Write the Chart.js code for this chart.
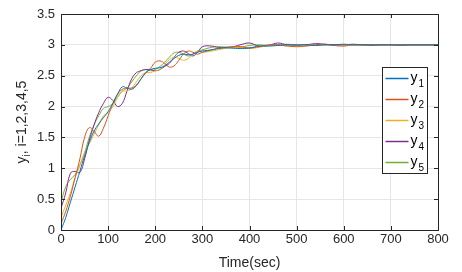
<!DOCTYPE html>
<html>
<head>
<meta charset="utf-8">
<script src="https://cdn.jsdelivr.net/npm/chart.js@4/dist/chart.umd.min.js"></script>
<style>
html,body{margin:0;padding:0;background:#fff;}
#wrap{width:462px;height:272px;position:relative;}
</style>
</head>
<body>
<div id="wrap"><canvas id="c" width="462" height="272"></canvas></div>
<script>
// time samples (sec)
const time = [0,10,20,30,40,50,60,70,80,90,100,110,120,130,140,150,160,170,180,190,200,210,220,230,240,250,260,270,280,290,300,
  320,340,360,380,400,420,440,460,480,500,520,540,560,580,600,620,640,660,680,700,720,740,760,780,800];

const y1 = [0,0.2,0.45,0.7,0.95,1.2,1.42,1.6,1.72,1.82,1.92,2.05,2.2,2.32,2.3,2.28,2.34,2.45,2.55,2.6,2.62,2.63,2.66,2.72,2.78,2.83,2.85,2.84,2.85,2.88,2.9,
  2.92,2.95,2.95,2.94,2.95,2.98,2.98,2.99,3.0,3.0,3.0,2.99,3.0,3.0,3.01,3.0,3.0,3.0,3.0,3.0,3.0,3.0,3.0,3.0,3.0];
const y2 = [0.1,0.3,0.55,0.85,1.15,1.5,1.66,1.6,1.52,1.65,1.85,2.05,2.2,2.28,2.3,2.3,2.35,2.45,2.55,2.62,2.72,2.74,2.7,2.64,2.66,2.75,2.85,2.9,2.88,2.85,2.88,
  2.92,2.95,2.97,2.97,2.95,2.97,3.0,3.0,2.98,2.97,2.98,3.0,3.01,2.99,2.98,3.0,3.0,2.99,3.0,3.0,2.99,3.0,3.0,3.0,3.0];
const y3 = [0.2,0.4,0.6,0.85,1.05,1.25,1.4,1.55,1.7,1.85,1.9,2.0,2.15,2.25,2.25,2.3,2.4,2.5,2.55,2.55,2.58,2.6,2.68,2.76,2.8,2.78,2.75,2.78,2.85,2.9,2.88,
  2.9,2.93,2.96,2.96,2.94,2.96,2.99,3.0,2.99,2.98,2.99,3.0,3.0,2.99,3.0,3.0,2.99,3.0,3.0,3.0,3.0,3.0,3.0,3.0,3.0];
const y4 = [0.35,0.6,0.92,0.95,0.93,1.15,1.45,1.7,1.9,2.05,2.15,2.1,2.0,2.05,2.25,2.45,2.55,2.58,2.6,2.6,2.58,2.6,2.65,2.7,2.8,2.88,2.9,2.86,2.82,2.88,2.97,
  2.98,2.95,2.96,3.0,3.03,2.98,2.99,3.03,3.0,2.99,3.0,3.02,3.01,3.0,3.0,3.01,3.0,3.0,3.0,3.0,3.0,3.0,3.0,3.0,3.0];
const y5 = [0.45,0.7,0.82,0.9,1.05,1.25,1.5,1.7,1.85,1.97,2.0,2.05,2.15,2.25,2.3,2.4,2.5,2.58,2.6,2.58,2.6,2.65,2.72,2.8,2.87,2.88,2.85,2.82,2.85,2.9,2.92,
  2.96,2.97,2.95,2.96,2.99,3.0,2.99,3.0,3.01,3.0,3.0,3.0,3.0,3.0,3.0,3.0,3.0,3.0,3.0,3.0,3.0,3.0,3.0,3.0,3.0];

const seriesNames = ['y1','y2','y3','y4','y5'];
const colors = ['#0072BD','#D95319','#EDB120','#7E2F8E','#77AC30'];
const xTitle = 'Time(sec)';
const yTitleMain = 'y';
const yTitleSub = 'i';
const yTitleRest = ', i=1,2,3,4,5';

const FONT = '"Liberation Sans", Arial, Helvetica, sans-serif';
const series = [y1,y2,y3,y4,y5];

const datasets = series.map((s,i)=>({
  label: seriesNames[i],
  data: time.map((t,k)=>({x:t,y:s[k]})),
  borderColor: colors[i],
  backgroundColor: colors[i],
  borderWidth: 1,
  pointRadius: 0,
  tension: 0.4,
  fill: false
}));

const overlay = {
  id:'overlay',
  afterDraw(chart){
    const ctx = chart.ctx;
    const a = chart.chartArea;
    const xs = chart.scales.x, ys = chart.scales.y;
    ctx.save();
    // box
    ctx.strokeStyle = '#262626';
    ctx.lineWidth = 1;
    ctx.strokeRect(Math.round(a.left)+0.5, Math.round(a.top)+0.5, Math.round(a.right-a.left), Math.round(a.bottom-a.top));
    // inward ticks
    ctx.beginPath();
    xs.ticks.forEach(t=>{
      const px = Math.round(xs.getPixelForValue(t.value))+0.5;
      ctx.moveTo(px,a.bottom); ctx.lineTo(px,a.bottom-4);
      ctx.moveTo(px,a.top); ctx.lineTo(px,a.top+4);
    });
    ys.ticks.forEach(t=>{
      const py = Math.round(ys.getPixelForValue(t.value))+0.5;
      ctx.moveTo(a.left,py); ctx.lineTo(a.left+4,py);
      ctx.moveTo(a.right,py); ctx.lineTo(a.right-4,py);
    });
    ctx.stroke();
    // x title
    ctx.fillStyle = '#262626';
    ctx.font = '14px ' + FONT;
    ctx.textAlign = 'center';
    ctx.textBaseline = 'middle';
    ctx.fillText(xTitle, (a.left+a.right)/2, 263);
    // y title rotated
    ctx.save();
    ctx.translate(22, (a.top+a.bottom)/2);
    ctx.rotate(-Math.PI/2);
    ctx.font = '14px ' + FONT;
    const w1 = ctx.measureText(yTitleMain).width;
    ctx.font = '10px ' + FONT;
    const w2 = ctx.measureText(yTitleSub).width;
    ctx.font = '14px ' + FONT;
    const w3 = ctx.measureText(yTitleRest).width;
    let sx = -(w1+w2+w3)/2;
    ctx.textAlign = 'left';
    ctx.textBaseline = 'alphabetic';
    ctx.fillText(yTitleMain, sx, 4);
    ctx.font = '10px ' + FONT;
    ctx.fillText(yTitleSub, sx+w1, 8);
    ctx.font = '14px ' + FONT;
    ctx.fillText(yTitleRest, sx+w1+w2, 4);
    ctx.restore();
    // legend
    const lx = 382.5, ly = 67.5, lw = 45, lh = 106;
    ctx.fillStyle = '#fff';
    ctx.fillRect(lx,ly,lw,lh);
    ctx.strokeStyle = '#262626';
    ctx.lineWidth = 1;
    ctx.strokeRect(lx,ly,lw,lh);
    chart.data.datasets.forEach((d,i)=>{
      const cy = ly + 11 + i*21;
      ctx.strokeStyle = d.borderColor;
      ctx.lineWidth = 1.5;
      ctx.beginPath();
      ctx.moveTo(lx+3, cy); ctx.lineTo(lx+26, cy);
      ctx.stroke();
      ctx.fillStyle = '#000';
      ctx.font = '14px ' + FONT;
      ctx.textAlign = 'left';
      ctx.textBaseline = 'alphabetic';
      ctx.fillText(d.label.charAt(0), lx+28, cy+3);
      ctx.font = '10px ' + FONT;
      ctx.fillText(d.label.slice(1), lx+36, cy+8);
    });
    ctx.restore();
  }
};

new Chart(document.getElementById('c'), {
  type:'line',
  data:{datasets},
  options:{
    responsive:false,
    animation:false,
    events:[],
    layout:{padding:{left:0,top:14,right:24,bottom:0}},
    plugins:{legend:{display:false},tooltip:{enabled:false}},
    scales:{
      x:{
        type:'linear', min:0, max:800,
        ticks:{stepSize:100, color:'#262626', font:{family:FONT,size:13}, padding:2, maxRotation:0},
        grid:{color:'#e6e6e6', tickLength:0, drawTicks:false},
        border:{display:false},
        afterFit(s){ s.height = 42; }
      },
      y:{
        min:0, max:3.5,
        ticks:{stepSize:0.5, color:'#262626', font:{family:FONT,size:13}, padding:6,
          callback:(v)=>String(Math.round(v*10)/10)},
        grid:{color:'#e6e6e6', drawTicks:false},
        border:{display:false},
        afterFit(s){ s.width = 61; }
      }
    }
  },
  plugins:[overlay]
});
</script>
</body>
</html>
